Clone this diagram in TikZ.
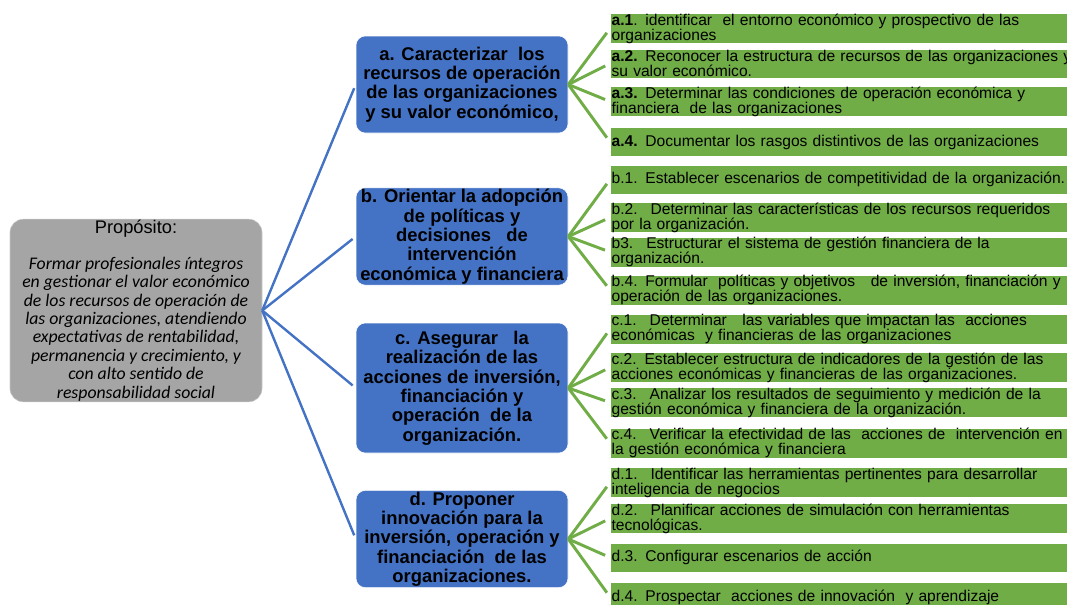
\documentclass[tikz,border=0pt]{standalone}
\usepackage{fontspec}
\setmainfont{Liberation Sans}
\newfontfamily\calibri{Carlito}
\usepackage{tikz}
\usetikzlibrary{arrows}
\usetikzlibrary{positioning}
\definecolor{azul}{HTML}{4472C4}
\definecolor{verde}{HTML}{70AD47}
\definecolor{gris}{HTML}{A5A5A5}
\setlength{\lineskiplimit}{-20pt}

\begin{document}
\begin{tikzpicture}
	[x=0.75pt,y=-0.75pt,
	proposito/.style={rectangle,rounded corners=10pt,fill=gris,draw=gris!60,align=center,minimum width=189pt,minimum height=137pt,inner sep=0pt,font=\calibri\itshape\fontsize{13.3}{13.8}\selectfont},
	meta/.style={rectangle,rounded corners=7pt,fill=azul,draw=white,align=center,minimum width=159pt,inner sep=1pt,font=\bfseries\fontsize{13.8}{14.5}\selectfont},
	paso/.style={rectangle,fill=verde,draw=white,anchor=west,align=left,text width=360pt,minimum height=22pt,inner xsep=1pt,inner ysep=0pt,font=\fontsize{11.7}{11.3}\selectfont},
	ramaazul/.style={draw=azul,line width=1.8pt,shorten >=3pt},
	ramaverde/.style={draw=verde,line width=2.2pt,shorten >=4pt}]
	\useasboundingbox (0,0) rectangle (1067,604);
	
	\node[proposito] (prop) at (136,310.5) {{\normalfont\fontsize{13.7}{14}\selectfont Propósito:}\\[13pt]
		Formar profesionales íntegros\\ en gestionar el valor económico\\ de los recursos de operación de\\ las organizaciones, atendiendo\\ expectativas de rentabilidad,\\ permanencia y crecimiento, y\\ con alto sentido de\\ responsabilidad social};
	
	\node[meta,minimum height=72.75pt] (a) at (462,84.5) {a. Caracterizar \ los\\ recursos de operación\\ de las organizaciones\\ y su valor económico,};
	\node[meta,minimum height=72.75pt] (b) at (462,236.5) {b. Orientar la adopción\\ de políticas y\\ decisiones \ \ de\\ intervención\\ económica y financiera};
	\node[meta,minimum height=97.5pt] (c) at (462,388) {c. Asegurar \ \ la\\ realización de las\\ acciones de inversión,\\ financiación y\\ operación \ de la\\ organización.};
	\node[meta,minimum height=72pt] (d) at (462,539) {d. Proponer\\ innovación para la\\ inversión, operación y\\ financiación \ de las\\ organizaciones.};
	
	\node[paso] (a1) at (610,28.5) {\textbf{a.1}. identificar \ el entorno económico y prospectivo de las\\ organizaciones};
	\node[paso] (a2) at (610,63.5) {\textbf{a.2.} Reconocer la estructura de recursos de las organizaciones y\\ su valor económico.};
	\node[paso] (a3) at (610,101.5) {\textbf{a.3.} Determinar las condiciones de operación económica y\\ financiera \ de las organizaciones};
	\node[paso] (a4) at (610,142) {\textbf{a.4.} Documentar los rasgos distintivos de las organizaciones};
	
	\node[paso] (b1) at (610,179.5) {b.1. Establecer escenarios de competitividad de la organización.};
	\node[paso] (b2) at (610,217.5) {b.2. \ Determinar las características de los recursos requeridos\\ por la organización.};
	\node[paso] (b3) at (610,252) {b3. \ Estructurar el sistema de gestión financiera de la\\ organización.};
	\node[paso] (b4) at (610,290) {b.4. Formular \ políticas y objetivos \ \ de inversión, financiación y\\ operación de las organizaciones.};
	
	\node[paso] (c1) at (610,329) {c.1. \ Determinar \ \ las variables que impactan las \ acciones\\ económicas \ y financieras de las organizaciones};
	\node[paso] (c2) at (610,367.5) {c.2. Establecer estructura de indicadores de la gestión de las\\ acciones económicas y financieras de las organizaciones.};
	\node[paso] (c3) at (610,402.5) {c.3. \ Analizar los resultados de seguimiento y medición de la\\ gestión económica y financiera de la organización.};
	\node[paso] (c4) at (610,443) {c.4. \ Verificar la efectividad de las \ acciones de \ intervención en\\ la gestión económica y financiera};
	
	\node[paso] (d1) at (610,482.5) {d.1. \ Identificar las herramientas pertinentes para desarrollar\\ inteligencia de negocios};
	\node[paso] (d2) at (610,518.5) {d.2. \ Planificar acciones de simulación con herramientas\\ tecnológicas.};
	\node[paso] (d3) at (610,557.5) {d.3. Configurar escenarios de acción};
	\node[paso] (d4) at (610,597) {d.4. Prospectar \ acciones de innovación \ y aprendizaje};
	
	\foreach \to in {a,b,c,d}
	\draw[ramaazul] (prop.east) -- (\to.west);
	
	\foreach \from/\to in 
	{a/a1, a/a2, a/a3, a/a4, b/b1, b/b2, b/b3, b/b4, c/c1, c/c2, c/c3, c/c4, d/d1, d/d2, d/d3, d/d4}
	\draw[ramaverde] (\from.east) -- (\to.west);
\end{tikzpicture}
\end{document}
